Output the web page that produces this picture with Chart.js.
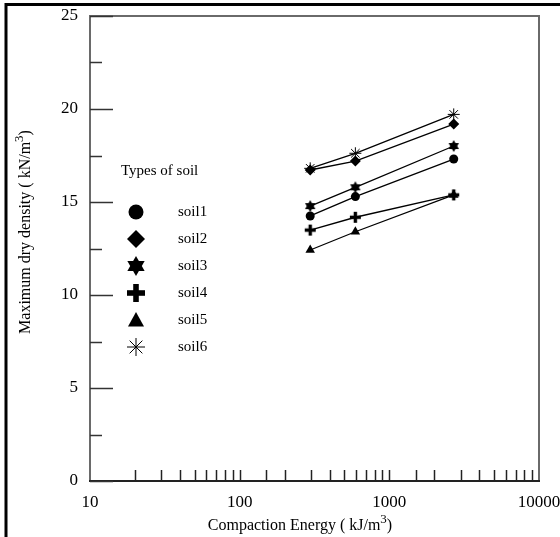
<!DOCTYPE html>
<html>
<head>
<meta charset="utf-8">
<script src="https://cdn.jsdelivr.net/npm/chart.js@4"></script>
<style>
  html, body { margin: 0; padding: 0; background: #fff; }
  canvas { display: block; }
</style>
</head>
<body>
<canvas id="soilChart" width="560" height="537"></canvas>
<script>
// compaction energy (kJ/m3) - reduced / standard / modified proctor
const energies = [296, 593, 2693];

// maximum dry density (kN/m3) per soil
const soilNames = ['soil1', 'soil2', 'soil3', 'soil4', 'soil5', 'soil6'];
const soil1 = [14.25, 15.29, 17.31];
const soil2 = [16.72, 17.20, 19.19];
const soil3 = [14.78, 15.79, 18.01];
const soil4 = [13.49, 14.18, 15.38];
const soil5 = [12.42, 13.40, 15.38];
const soil6 = [16.81, 17.62, 19.71];

// tick labels
const xTickLabels = [10, 100, 1000, 10000];
const yTickLabels = [0, 5, 10, 15, 20, 25];

const FONT = '"Liberation Serif", "Times New Roman", serif';

// 六芒星 と 太い十字 はキャンバス画像で作る
function makeHexagram(r) {
  const c = document.createElement('canvas');
  const s = Math.ceil(r * 2 + 2);
  c.width = s; c.height = s;
  const g = c.getContext('2d');
  const cx = s / 2, cy = s / 2;
  g.fillStyle = '#000';
  [-90, 90].forEach(start => {
    g.beginPath();
    for (let i = 0; i < 3; i++) {
      const a = (start + i * 120) * Math.PI / 180;
      const px = cx + r * Math.cos(a), py = cy + r * Math.sin(a);
      if (i === 0) g.moveTo(px, py); else g.lineTo(px, py);
    }
    g.closePath();
    g.fill();
  });
  return c;
}

function makeThickCross(r) {
  const c = document.createElement('canvas');
  const s = Math.ceil(r * 2 + 2);
  c.width = s; c.height = s;
  const g = c.getContext('2d');
  const cx = s / 2, cy = s / 2;
  const w = r * 0.62;
  g.fillStyle = '#000';
  g.fillRect(cx - w / 2, cy - r, w, r * 2);
  g.fillRect(cx - r, cy - w / 2, r * 2, w);
  return c;
}

const hexSmall = makeHexagram(6);
const crossSmall = makeThickCross(5.5);
const hexLarge = makeHexagram(10);
const crossLarge = makeThickCross(9);

const seriesValues = [soil1, soil2, soil3, soil4, soil5, soil6];
const pointStyles = ['circle', 'rectRot', hexSmall, crossSmall, 'triangle', 'star'];
const pointRadii = [4.5, 5.5, 6, 5.5, 5.5, 6];
const legendStyles = ['circle', 'rectRot', hexLarge, crossLarge, 'triangle', 'star'];

const datasets = soilNames.map((name, i) => ({
  label: name,
  data: energies.map((e, j) => ({ x: e, y: seriesValues[i][j] })),
  showLine: true,
  borderColor: '#000',
  borderWidth: 1.3,
  backgroundColor: '#000',
  pointStyle: pointStyles[i],
  pointRadius: pointRadii[i],
  pointBorderWidth: i === 5 ? 1 : 0,
  pointBorderColor: '#000',
  pointBackgroundColor: '#000',
  legendStyle: legendStyles[i]
}));

// 上付き文字つきのタイトルを描く（中心基準）
function drawSupTitle(ctx, before, sup, after, cx, cy, rotate) {
  const base = '16px ' + FONT;
  const small = '13px ' + FONT;
  ctx.save();
  ctx.translate(cx, cy);
  if (rotate) ctx.rotate(-Math.PI / 2);
  ctx.fillStyle = '#000';
  ctx.textBaseline = 'middle';
  ctx.textAlign = 'left';
  ctx.font = base;
  const w1 = ctx.measureText(before).width;
  const w3 = ctx.measureText(after).width;
  ctx.font = small;
  const w2 = ctx.measureText(sup).width;
  let x = -(w1 + w2 + w3) / 2;
  ctx.font = base;
  ctx.fillText(before, x, 0);
  x += w1;
  ctx.font = small;
  ctx.fillText(sup, x, -6);
  x += w2;
  ctx.font = base;
  ctx.fillText(after, x, 0);
  ctx.restore();
}

// 軸の内向き目盛と枠
const framePlugin = {
  id: 'frame',
  afterDraw(chart) {
    const { ctx, chartArea: a, scales } = chart;
    const xs = scales.x, ys = scales.y;
    ctx.save();

    // outer page frame
    ctx.strokeStyle = '#000';
    ctx.lineWidth = 3;
    ctx.beginPath();
    ctx.moveTo(6, 537);
    ctx.lineTo(6, 4.5);
    ctx.lineTo(560, 4.5);
    ctx.stroke();

    // plot box
    ctx.lineWidth = 2;
    ctx.strokeStyle = '#6a6a6a';
    ctx.beginPath();
    ctx.moveTo(a.left, a.bottom);
    ctx.lineTo(a.left, a.top);
    ctx.lineTo(a.right, a.top);
    ctx.lineTo(a.right, a.bottom);
    ctx.stroke();
    ctx.strokeStyle = '#222';
    ctx.beginPath();
    ctx.moveTo(a.left - 1, a.bottom);
    ctx.lineTo(a.right + 1, a.bottom);
    ctx.stroke();

    // x ticks (inward)
    ctx.lineWidth = 1.5;
    ctx.strokeStyle = '#222';
    xs.ticks.forEach(t => {
      if (t.value <= xs.min || t.value >= xs.max) return;
      const px = Math.round(xs.getPixelForValue(t.value)) + 0.5;
      ctx.beginPath();
      ctx.moveTo(px, a.bottom);
      ctx.lineTo(px, a.bottom - 11);
      ctx.stroke();
    });

    // y ticks (inward)
    ys.ticks.forEach(t => {
      const py = Math.round(ys.getPixelForValue(t.value)) + 0.5;
      const len = yTickLabels.includes(t.value) ? 23 : 12;
      ctx.strokeStyle = '#333';
      ctx.beginPath();
      ctx.moveTo(a.left, py);
      ctx.lineTo(a.left + len, py);
      ctx.stroke();
    });

    // axis titles
    drawSupTitle(ctx, 'Compaction Energy ( kJ/m', '3', ')', 300, 526, false);
    drawSupTitle(ctx, 'Maximum dry density ( kN/m', '3', ')', 26, 232, true);

    // legend
    ctx.fillStyle = '#000';
    ctx.font = '15px ' + FONT;
    ctx.textBaseline = 'middle';
    ctx.textAlign = 'left';
    ctx.fillText('Types of soil', 121, 171);
    chart.data.datasets.forEach((ds, i) => {
      const cy = 212 + i * 27;
      const cx = 136;
      ctx.fillText(ds.label, 178, cy);
      drawLegendSymbol(ctx, ds.legendStyle, cx, cy);
    });
    ctx.restore();
  }
};

function drawLegendSymbol(ctx, style, x, y) {
  ctx.save();
  ctx.fillStyle = '#000';
  ctx.strokeStyle = '#000';
  if (style instanceof HTMLCanvasElement) {
    ctx.drawImage(style, x - style.width / 2, y - style.height / 2);
  } else if (style === 'circle') {
    ctx.beginPath();
    ctx.arc(x, y, 7.5, 0, Math.PI * 2);
    ctx.fill();
  } else if (style === 'rectRot') {
    const r = 9;
    ctx.beginPath();
    ctx.moveTo(x, y - r); ctx.lineTo(x + r, y); ctx.lineTo(x, y + r); ctx.lineTo(x - r, y);
    ctx.closePath();
    ctx.fill();
  } else if (style === 'triangle') {
    ctx.beginPath();
    ctx.moveTo(x, y - 8); ctx.lineTo(x + 8, y + 6.5); ctx.lineTo(x - 8, y + 6.5);
    ctx.closePath();
    ctx.fill();
  } else if (style === 'star') {
    const r = 9;
    ctx.lineWidth = 1;
    ctx.beginPath();
    for (let k = 0; k < 4; k++) {
      const ang = k * Math.PI / 4;
      ctx.moveTo(x - r * Math.cos(ang), y - r * Math.sin(ang));
      ctx.lineTo(x + r * Math.cos(ang), y + r * Math.sin(ang));
    }
    ctx.stroke();
  }
  ctx.restore();
}

Chart.defaults.font.family = FONT;
Chart.defaults.color = '#000';

new Chart(document.getElementById('soilChart').getContext('2d'), {
  type: 'scatter',
  data: { datasets },
  options: {
    responsive: false,
    animation: false,
    devicePixelRatio: 1,
    layout: { padding: { top: 16, right: 21, left: 0, bottom: 0 } },
    plugins: { legend: { display: false }, tooltip: { enabled: false } },
    events: [],
    scales: {
      x: {
        type: 'logarithmic',
        min: 10,
        max: 10000,
        border: { display: false },
        grid: { display: false, drawTicks: false },
        ticks: {
          autoSkip: false,
          maxRotation: 0,
          padding: 11,
          font: { size: 17 },
          callback: v => xTickLabels.includes(v) ? String(v) : ''
        },
        afterFit(scale) {
          scale.height = 56;
          scale.paddingLeft = 0;
          scale.paddingRight = 0;
        }
      },
      y: {
        min: 0,
        max: 25,
        border: { display: false },
        grid: { display: false, drawTicks: false },
        ticks: {
          stepSize: 2.5,
          autoSkip: false,
          padding: 12,
          font: { size: 17 },
          callback: v => yTickLabels.includes(v) ? String(v) : ''
        },
        afterFit(scale) {
          scale.width = 90;
          scale.paddingTop = 0;
          scale.paddingBottom = 0;
        }
      }
    }
  },
  plugins: [framePlugin]
});
</script>
</body>
</html>
